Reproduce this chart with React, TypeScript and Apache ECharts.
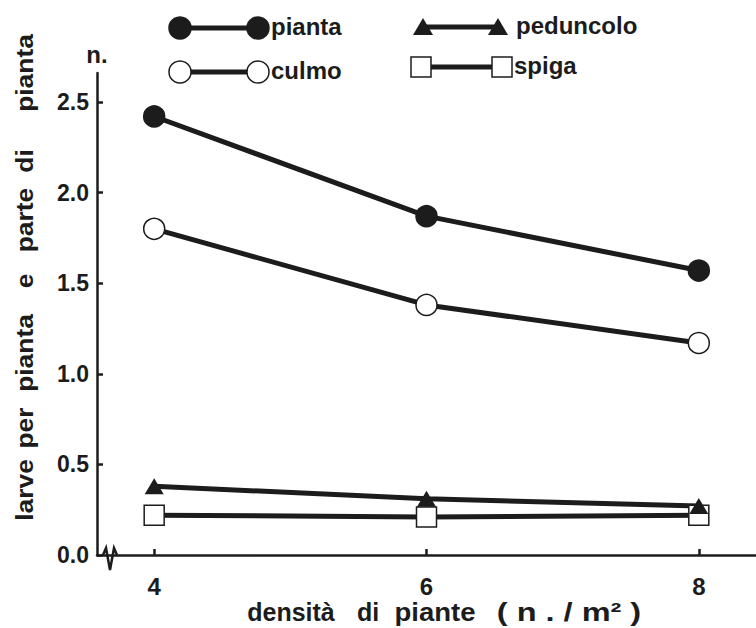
import React, { useEffect, useRef } from "react";
import * as echarts from "echarts";

const densities = [4, 6, 8];
const pianta = [2.42, 1.87, 1.57];
const culmo = [1.8, 1.38, 1.17];
const peduncolo = [0.38, 0.31, 0.27];
const spiga = [0.22, 0.21, 0.22];
const yTicks = [0, 0.5, 1.0, 1.5, 2.0, 2.5];
const xTicks = [4, 6, 8];
const yTitleWords = ["larve", "per", "pianta", "e", "parte", "di", "pianta"];
const xTitleWords = ["densità", "di", "piante", "( n . / m² )"];

const INK = "#1c1c1c";
const FONT = "'Liberation Sans', Arial, sans-serif";

export default function App() {
  const ref = useRef<HTMLDivElement>(null);
  useEffect(() => {
    if (!ref.current) return;
    document.body.style.margin = "0";
    const chart = echarts.init(ref.current, null, { renderer: "svg" });
    const toPts = (arr: number[]) => densities.map((d, i) => [d, arr[i]]);
    const lineStyle = { color: INK, width: 5 };
    const txt = (text: string, x: number, y: number, extra: any = {}, size = 24, el: any = {}) => ({
      type: "text",
      x,
      y,
      ...el,
      style: {
        text,
        fill: INK,
        font: `bold ${size}px ${FONT}`,
        textVerticalAlign: "middle",
        lineHeight: 20,
        ...extra,
      },
    });
    const legendLine = (x1: number, x2: number, y: number) => ({
      type: "line",
      shape: { x1, y1: y, x2, y2: y },
      style: { stroke: INK, lineWidth: 5 },
    });
    const circ = (cx: number, cy: number, filled: boolean) => ({
      type: "circle",
      shape: { cx, cy, r: 11 },
      style: { fill: filled ? INK : "#fff", stroke: INK, lineWidth: 1.5 },
    });
    const tri = (cx: number, cy: number) => ({
      type: "polygon",
      shape: { points: [[cx, cy - 9], [cx - 10, cy + 8], [cx + 10, cy + 8]] },
      style: { fill: INK },
    });
    const sq = (cx: number, cy: number) => ({
      type: "rect",
      shape: { x: cx - 10, y: cy - 10, width: 20, height: 20 },
      style: { fill: "#fff", stroke: INK, lineWidth: 1.5 },
    });

    const yTitleCenters = [490, 428, 353, 281, 220, 161, 73];
    const xTitleCenters = [291, 368, 435, 569];
    const xTitleScale = [1, 1, 1.1, 1.3];

    chart.setOption({
      animation: false,
      backgroundColor: "#fff",
      grid: { left: 97, right: 0, top: 73, bottom: 73, containLabel: false },
      xAxis: {
        type: "value",
        min: 3.58,
        max: 8.42,
        axisLine: { show: true, lineStyle: { color: INK, width: 2.5 } },
        axisTick: { show: true, inside: true, length: 6, customValues: xTicks, lineStyle: { color: INK, width: 2.5 } },
        axisLabel: {
          customValues: xTicks,
          margin: 22,
          lineHeight: 18,
          color: INK,
          fontSize: 24,
          fontWeight: "bold",
          fontFamily: FONT,
        },
        splitLine: { show: false },
      },
      yAxis: {
        type: "value",
        min: 0,
        max: 2.66,
        axisLine: { show: true, lineStyle: { color: INK, width: 2.5 } },
        axisTick: { show: true, inside: true, length: 6, customValues: yTicks, lineStyle: { color: INK, width: 2.5 } },
        axisLabel: {
          customValues: yTicks,
          margin: 8,
          color: INK,
          fontSize: 23,
          fontWeight: "bold",
          fontFamily: FONT,
          formatter: (v: number) => v.toFixed(1),
        },
        splitLine: { show: false },
      },
      series: [
        {
          name: "pianta",
          type: "line",
          data: toPts(pianta),
          symbol: "circle",
          symbolSize: 21,
          lineStyle,
          itemStyle: { color: INK, borderColor: INK, borderWidth: 1.5 },
        },
        {
          name: "culmo",
          type: "line",
          data: toPts(culmo),
          symbol: "circle",
          symbolSize: 21,
          lineStyle,
          itemStyle: { color: "#fff", borderColor: INK, borderWidth: 1.5 },
        },
        {
          name: "spiga",
          type: "line",
          data: toPts(spiga),
          symbol: "rect",
          symbolSize: 20,
          lineStyle,
          itemStyle: { color: "#fff", borderColor: INK, borderWidth: 1.5 },
        },
        {
          name: "peduncolo",
          type: "line",
          data: toPts(peduncolo),
          symbol: "triangle",
          symbolSize: [19, 16],
          lineStyle,
          itemStyle: { color: INK, borderColor: INK, borderWidth: 0 },
        },
      ],
      graphic: [
        {
          type: "polyline",
          shape: { points: [[103, 555], [106, 548], [110, 570], [114, 548], [117, 555]] },
          style: { stroke: INK, lineWidth: 2.5, fill: null },
        },
        txt("n.", 97, 54, { textAlign: "center" }),
        ...yTitleWords.map((w, i) => ({
          type: "text",
          x: 24,
          y: yTitleCenters[i],
          rotation: Math.PI / 2,
          scaleX: 1.1,
          style: {
            text: w,
            fill: INK,
            font: `bold 24px ${FONT}`,
            textAlign: "center",
            textVerticalAlign: "middle",
          },
        })),
        ...xTitleWords.map((w, i) =>
          txt(w, xTitleCenters[i], 612, { textAlign: "center" }, 25, { scaleX: xTitleScale[i] })
        ),
        legendLine(180, 258, 28),
        circ(180, 28, true),
        circ(258, 28, true),
        txt("pianta", 271, 26),
        legendLine(180, 258, 72),
        circ(180, 72, false),
        circ(258, 72, false),
        txt("culmo", 271, 70),
        legendLine(423, 498, 27),
        tri(423, 27),
        tri(498, 27),
        txt("peduncolo", 516, 25),
        legendLine(421, 502, 67),
        sq(421, 67),
        sq(502, 67),
        txt("spiga", 514, 65),
      ],
    });
    return () => chart.dispose();
  }, []);
  return <div ref={ref} style={{ width: 756, height: 628 }} />;
}
